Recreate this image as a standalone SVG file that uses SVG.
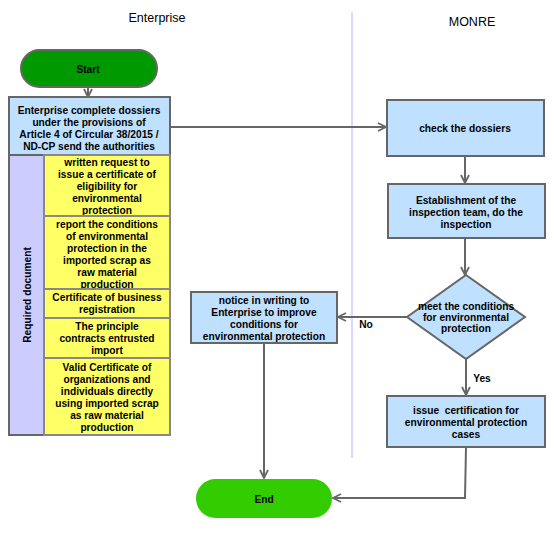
<svg xmlns="http://www.w3.org/2000/svg" width="554" height="542" viewBox="0 0 554 542">
<style>
text{font-family:"Liberation Sans",Arial,sans-serif;fill:#000}
.t{font-size:10.2px;font-weight:bold;text-anchor:middle}
.h{font-size:12.5px;text-anchor:middle}
.blue{fill:#BFE0FF;stroke:#666;stroke-width:2}
.yel{fill:#FFFF66;stroke:#888;stroke-width:2}
.c{fill:none;stroke:#666;stroke-width:2}
</style>
<defs>
<marker id="arr" viewBox="0 0 10 10" refX="9" refY="5" markerWidth="10" markerHeight="10" markerUnits="userSpaceOnUse" orient="auto">
<path d="M1,1 L9,5 L1,9" fill="none" stroke="#666" stroke-width="1.8"/>
</marker>
</defs>
<rect width="554" height="542" fill="#fff"/>
<line x1="352" y1="12" x2="352" y2="458" stroke="#CCCCFF" stroke-width="1.5"/>
<text class="h" x="157" y="22">Enterprise</text>
<text class="h" x="472" y="26">MONRE</text>

<g id="connectors">
<line class="c" x1="88" y1="87" x2="88" y2="97" marker-end="url(#arr)"/>
<line class="c" x1="170" y1="127" x2="386" y2="127" marker-end="url(#arr)"/>
<line class="c" x1="465" y1="157" x2="465" y2="183" marker-end="url(#arr)"/>
<line class="c" x1="465" y1="239" x2="465" y2="275" marker-end="url(#arr)"/>
<line class="c" x1="407" y1="317" x2="338" y2="317" marker-end="url(#arr)"/>
<text class="t" x="366" y="328">No</text>
<line class="c" x1="466" y1="359" x2="466" y2="395" marker-end="url(#arr)"/>
<text class="t" x="482" y="382">Yes</text>
<line class="c" x1="264" y1="343" x2="264" y2="478" marker-end="url(#arr)"/>
<polyline class="c" points="466,447 465,498 333,498" marker-end="url(#arr)"/>
</g>

<g id="start">
<rect x="21" y="50" width="136" height="37" rx="18.5" fill="#009900" stroke="#666" stroke-width="2"/>
<text class="t" x="88" y="73">Start</text>
</g>

<g id="enterprise-dossiers">
<rect class="blue" x="9" y="97" width="161" height="58"/>
<text class="t" x="89" y="114">Enterprise complete dossiers</text>
<text class="t" x="89" y="126">under the provisions of</text>
<text class="t" x="89" y="138">Article 4 of Circular 38/2015 /</text>
<text class="t" x="89" y="150">ND-CP send the authorities</text>
</g>

<g id="required-document">
<rect x="9" y="155" width="35" height="280" fill="#CCCCFF" stroke="#666" stroke-width="2"/>
<text class="t" transform="translate(31,295) rotate(-90)" x="0" y="0">Required document</text>
</g>

<g id="doc1">
<rect class="yel" x="44" y="155" width="126" height="61"/>
<text class="t" x="107" y="166">written request to</text>
<text class="t" x="107" y="178">issue a certificate of</text>
<text class="t" x="107" y="190">eligibility for</text>
<text class="t" x="107" y="202">environmental</text>
<text class="t" x="107" y="214">protection</text>
</g>
<g id="doc2">
<rect class="yel" x="44" y="216" width="126" height="73"/>
<text class="t" x="107" y="228">report the conditions</text>
<text class="t" x="107" y="240">of environmental</text>
<text class="t" x="107" y="252">protection in the</text>
<text class="t" x="107" y="264">imported scrap as</text>
<text class="t" x="107" y="276">raw material</text>
<text class="t" x="107" y="288">production</text>
</g>
<g id="doc3">
<rect class="yel" x="44" y="289" width="126" height="29"/>
<text class="t" x="107" y="301">Certificate of business</text>
<text class="t" x="107" y="313">registration</text>
</g>
<g id="doc4">
<rect class="yel" x="44" y="318" width="126" height="40"/>
<text class="t" x="107" y="330">The principle</text>
<text class="t" x="107" y="342">contracts entrusted</text>
<text class="t" x="107" y="354">import</text>
</g>
<g id="doc5">
<rect class="yel" x="44" y="358" width="126" height="77"/>
<text class="t" x="107" y="371">Valid Certificate of</text>
<text class="t" x="107" y="383">organizations and</text>
<text class="t" x="107" y="395">individuals directly</text>
<text class="t" x="107" y="407">using imported scrap</text>
<text class="t" x="107" y="419">as raw material</text>
<text class="t" x="107" y="431">production</text>
</g>

<g id="check-dossiers">
<rect class="blue" x="387" y="100" width="157" height="56"/>
<text class="t" x="465" y="132">check the dossiers</text>
</g>

<g id="establishment">
<rect class="blue" x="388" y="184" width="157" height="54"/>
<text class="t" x="466" y="204">Establishment of the</text>
<text class="t" x="466" y="216">inspection team, do the</text>
<text class="t" x="466" y="228">inspection</text>
</g>

<g id="decision">
<polygon class="blue" points="466,275 525,317 466,359 407,317"/>
<text class="t" x="466" y="310">meet the conditions</text>
<text class="t" x="466" y="321">for environmental</text>
<text class="t" x="466" y="332">protection</text>
</g>

<g id="notice">
<rect class="blue" x="191" y="292" width="146" height="51"/>
<text class="t" x="264" y="304">notice in writing to</text>
<text class="t" x="264" y="316">Enterprise to improve</text>
<text class="t" x="264" y="328">conditions for</text>
<text class="t" x="264" y="340">environmental protection</text>
</g>

<g id="issue">
<rect class="blue" x="387" y="396" width="158" height="51"/>
<text class="t" x="466" y="414">issue&#160; certification for</text>
<text class="t" x="466" y="426">environmental protection</text>
<text class="t" x="466" y="438">cases</text>
</g>

<g id="end">
<rect x="196" y="479" width="136" height="39" rx="19.5" fill="#33CC00"/>
<text class="t" x="264" y="503">End</text>
</g>
</svg>
